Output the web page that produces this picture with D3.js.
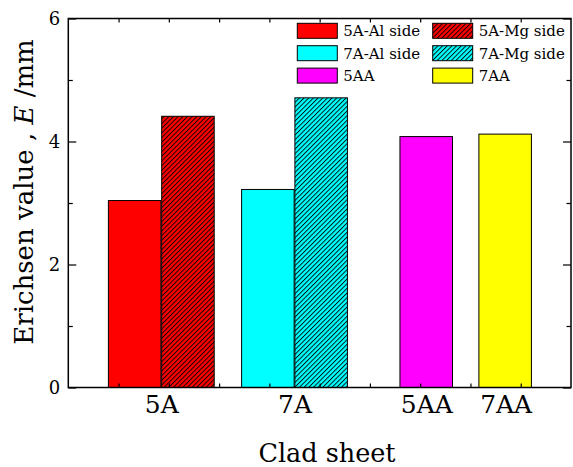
<!DOCTYPE html>
<html lang="en">
<head>
  <meta charset="UTF-8">
  <title>Erichsen value of clad sheets</title>
  <script src="https://d3js.org/d3.v7.min.js"></script>
  <style>
    body {
      margin: 0;
      padding: 0;
      background: #fff;
      font-family: 'DejaVu Serif', serif;
    }
    .axis path { display: none; }
    .axis line { stroke: #000; stroke-width: 1.2; }
    .axis text { fill: #000; font-family: 'DejaVu Serif', serif; }
    .legend text { font-size: 15px; fill: #000; }
  </style>
</head>
<body>
  <div id="chart"></div>
  <script>
    // Data
    const groups = ["5A", "7A", "5AA", "7AA"];
    const groupX = [1.85, 4.5, 7.12, 8.7];           // category positions on the x axis (0-10)
    const barNames = ["5A-Al side", "5A-Mg side", "7A-Al side", "7A-Mg side", "5AA", "7AA"];
    const barX = [1.32, 2.38, 3.97, 5.03, 7.12, 8.69]; // bar centres on the x axis (0-10)
    const erichsen = [3.04, 4.41, 3.22, 4.71, 4.08, 4.12];
    const yTicks = [0, 2, 4, 6];
    const yMinorTicks = [1, 3, 5];

    const barColors = ["#ff0000", "#ff0000", "#00ffff", "#00ffff", "#ff00ff", "#ffff00"];
    const barHatched = [false, true, false, true, false, false];
    const barWidth = 1.045; // axis units

    const width = 573, height = 467;
    const plot = { left: 68.3, right: 571, top: 18.5, bottom: 387.5 };

    const svg = d3.select("#chart").append("svg")
      .attr("width", width)
      .attr("height", height);

    const x = d3.scaleLinear().domain([0, 10]).range([plot.left, plot.right]);
    const y = d3.scaleLinear().domain([0, 6]).range([plot.bottom, plot.top]);

    // hatch patterns (black "/" lines over the bar colour)
    const defs = svg.append("defs");
    function hatchId(color) { return "hatch-" + color.slice(1); }
    Array.from(new Set(barColors)).forEach(c => {
      const p = defs.append("pattern")
        .attr("id", hatchId(c))
        .attr("patternUnits", "userSpaceOnUse")
        .attr("width", 3.3)
        .attr("height", 3.3)
        .attr("patternTransform", "rotate(45)");
      p.append("rect").attr("width", 3.3).attr("height", 3.3).attr("fill", c);
      p.append("line")
        .attr("x1", 0.5).attr("y1", 0).attr("x2", 0.5).attr("y2", 3.3)
        .attr("stroke", "#000").attr("stroke-width", 0.9);
    });
    const fillFor = i => barHatched[i] ? `url(#${hatchId(barColors[i])})` : barColors[i];

    // bars
    const bw = x(barWidth) - x(0);
    svg.append("g").selectAll("rect")
      .data(erichsen)
      .enter().append("rect")
      .attr("x", (d, i) => x(barX[i]) - bw / 2)
      .attr("y", d => y(d))
      .attr("width", bw)
      .attr("height", d => y(0) - y(d))
      .attr("fill", (d, i) => fillFor(i))
      .attr("stroke", "#000")
      .attr("stroke-width", 1);

    // axes: ticks point inward on all four sides
    svg.append("g").attr("class", "axis")
      .attr("transform", `translate(${plot.left},0)`)
      .call(d3.axisLeft(y).tickValues(yTicks).tickSize(-8).tickPadding(8).tickFormat(d3.format("d")))
      .selectAll("text").style("font-size", "18px");
    svg.append("g").attr("class", "axis")
      .attr("transform", `translate(${plot.left},0)`)
      .call(d3.axisLeft(y).tickValues(yMinorTicks).tickSize(-4.5).tickFormat(""));
    svg.append("g").attr("class", "axis")
      .attr("transform", `translate(${plot.right},0)`)
      .call(d3.axisRight(y).tickValues(yTicks).tickSize(-8).tickFormat(""));
    svg.append("g").attr("class", "axis")
      .attr("transform", `translate(${plot.right},0)`)
      .call(d3.axisRight(y).tickValues(yMinorTicks).tickSize(-4.5).tickFormat(""));
    svg.append("g").attr("class", "axis")
      .attr("transform", `translate(0,${plot.bottom})`)
      .call(d3.axisBottom(x).tickValues(d3.range(1, 10)).tickSize(-4).tickFormat(""));
    svg.append("g").attr("class", "axis")
      .attr("transform", `translate(0,${plot.top})`)
      .call(d3.axisTop(x).tickValues(d3.range(1, 10)).tickSize(-4).tickFormat(""));

    // category labels
    svg.append("g").attr("class", "axis")
      .attr("transform", `translate(0,${plot.bottom})`)
      .call(d3.axisBottom(x).tickValues(groupX).tickSize(0).tickPadding(8)
        .tickFormat((d, i) => groups[i]))
      .selectAll("text").style("font-size", "25px");

    // frame
    svg.append("rect")
      .attr("x", plot.left).attr("y", plot.top)
      .attr("width", plot.right - plot.left).attr("height", plot.bottom - plot.top)
      .attr("fill", "none").attr("stroke", "#000").attr("stroke-width", 1.5);

    // axis titles
    svg.append("text")
      .attr("x", 327).attr("y", 462)
      .attr("text-anchor", "middle")
      .style("font-size", "25.5px")
      .text("Clad sheet");

    const yTitle = svg.append("text")
      .attr("transform", "translate(33,192) rotate(-90)")
      .attr("text-anchor", "middle")
      .style("font-size", "26px");
    yTitle.append("tspan").text("Erichsen value , ");
    yTitle.append("tspan").style("font-style", "italic").text("E");
    yTitle.append("tspan").text(" /mm");

    // legend
    const legend = svg.append("g").attr("class", "legend");
    const item = legend.selectAll("g")
      .data(barNames)
      .enter().append("g")
      .attr("transform", (d, i) => `translate(${i % 2 ? 432.7 : 297.3},${23.3 + Math.floor(i / 2) * 22.4})`);
    item.append("rect")
      .attr("width", 40).attr("height", 15)
      .attr("fill", (d, i) => fillFor(i))
      .attr("stroke", "#000").attr("stroke-width", 1);
    item.append("text")
      .attr("x", 46).attr("y", 13)
      .text(d => d);
  </script>
</body>
</html>
